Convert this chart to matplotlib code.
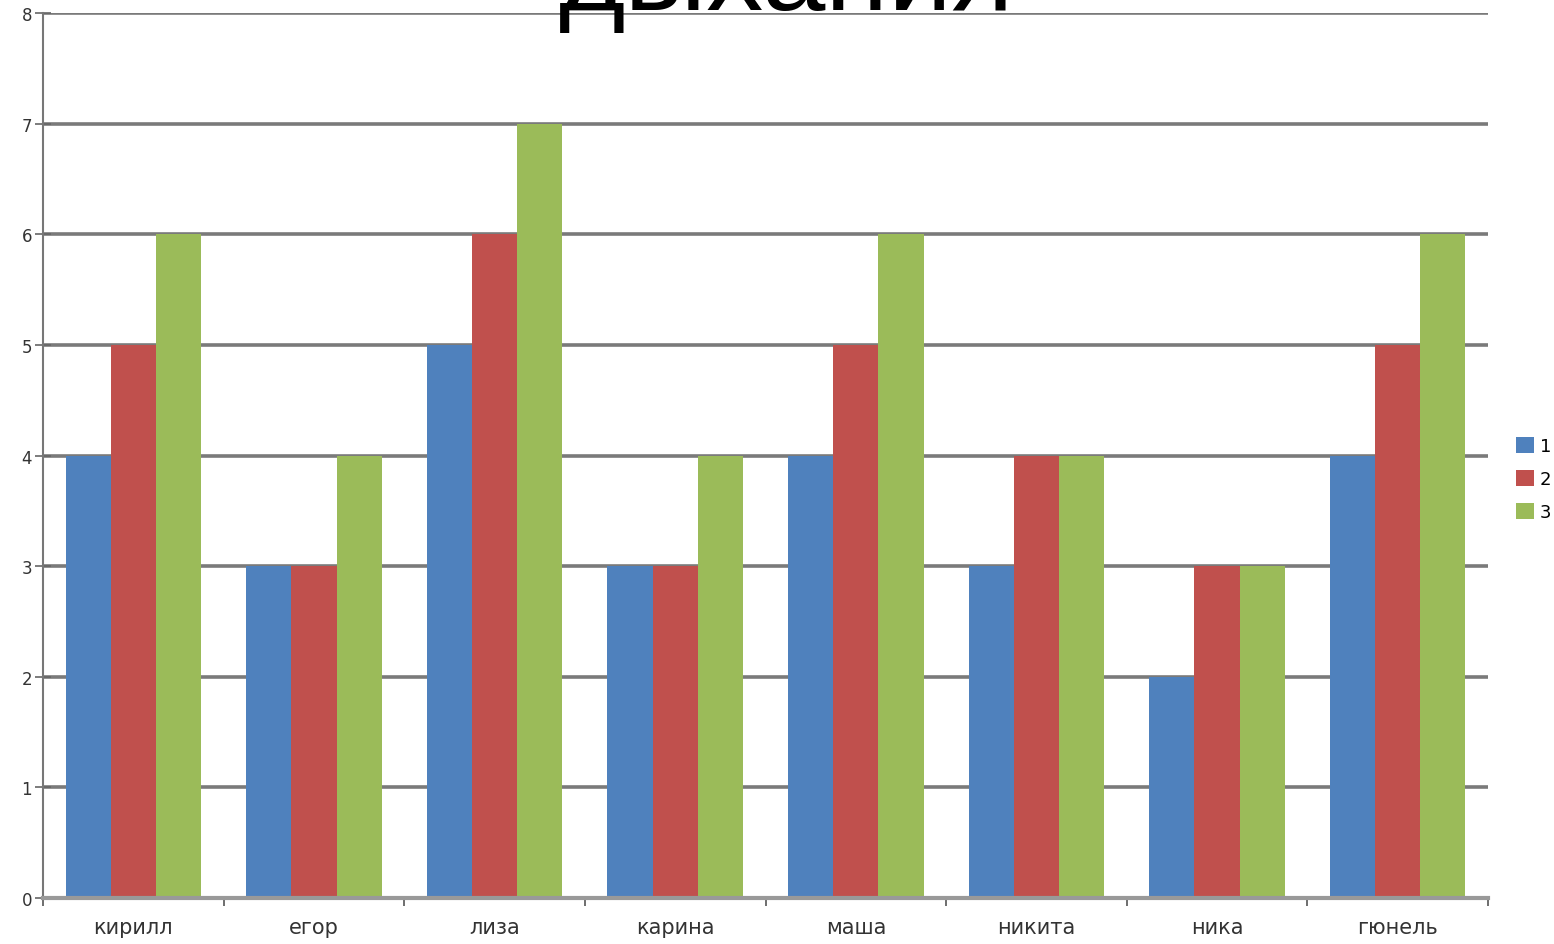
import numpy as np
import matplotlib.pyplot as plt
from matplotlib.ticker import FixedLocator

plt.rcParams['font.family'] = ['DejaVu Sans']

# данные
names = ["кирилл", "егор", "лиза", "карина", "маша", "никита", "ника", "гюнель"]
s1 = [4, 3, 5, 3, 4, 3, 2, 4]
s2 = [5, 3, 6, 3, 5, 4, 3, 5]
s3 = [6, 4, 7, 4, 6, 4, 3, 6]
labels = ["1", "2", "3"]
colors = ["#4F81BD", "#C0504D", "#9BBB59"]

fig = plt.figure(figsize=(15.54, 9.45), dpi=100)
ax = fig.add_axes([43/1554, 1-899/945, (1488-43)/1554, (899-14)/945])

x = np.arange(len(names))
w = 0.25
for i, (vals, lab, c) in enumerate(zip([s1, s2, s3], labels, colors)):
    ax.bar(x + (i-1)*w, vals, w, color=c, label=lab, zorder=2)

ax.set_xlim(-0.5, len(names)-0.5)
ax.set_ylim(0, 8)
ax.set_yticks(range(0, 9))
ax.yaxis.grid(True, color="#7a7a7a", linewidth=2.6, zorder=1)
ax.set_axisbelow(True)

# подписи категорий по центру, засечки между группами
ax.set_xticks(x)
ax.set_xticklabels(names, fontsize=15, color="#333333")
ax.tick_params(axis="x", which="major", length=0, pad=14)
ax.xaxis.set_minor_locator(FixedLocator(np.arange(-0.5, len(names), 1.0)))
ax.tick_params(axis="x", which="minor", length=6, width=1.2, color="#555555")
ax.tick_params(axis="y", direction="inout", length=12, width=1.2, color="#666666",
               labelsize=12, labelcolor="#333333", pad=2)

for s in ["top", "right"]:
    ax.spines[s].set_visible(False)
ax.spines["left"].set_color("#777777")
ax.spines["left"].set_linewidth(1.5)
ax.spines["bottom"].set_color("#999999")
ax.spines["bottom"].set_linewidth(3)

fig.text(787/1554, 1-10/945, "дыхания", fontsize=82, ha="center", va="baseline",
         family="Liberation Sans")

fig.legend(loc="center left", bbox_to_anchor=(1507/1554, 1-480/945), frameon=False,
           fontsize=13, handlelength=1.0, handleheight=1.0, handletextpad=0.3,
           labelspacing=0.8, borderpad=0)

plt.savefig("out.png", dpi=100)
